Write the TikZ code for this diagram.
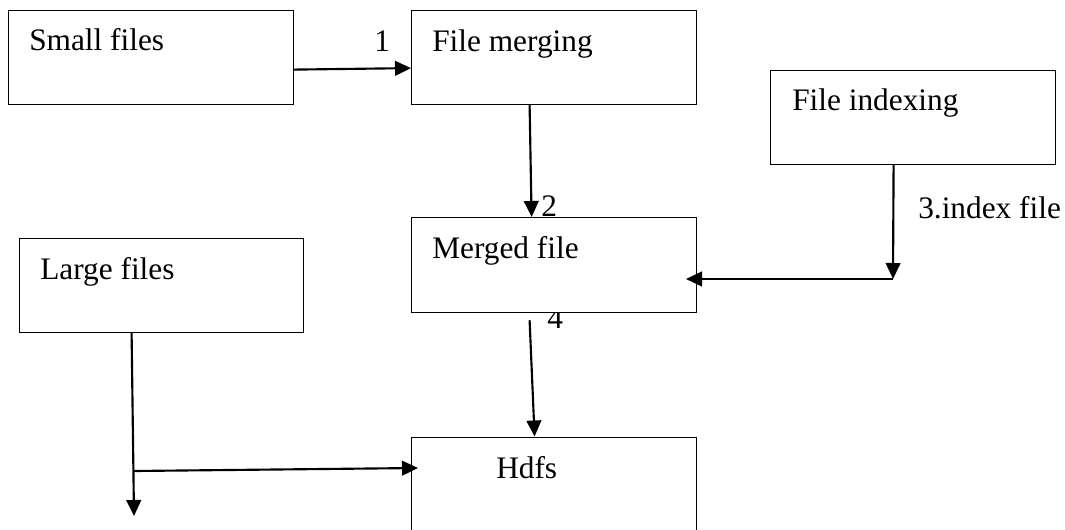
\documentclass[tikz,border=0pt]{standalone}
\usepackage{fontspec}
\setmainfont{Liberation Serif}
\usetikzlibrary{arrows.meta,calc}
\begin{document}
\begin{tikzpicture}[x=0.75pt,y=-0.75pt,
  box/.style={draw,fill=white,line width=0.9pt,inner sep=0pt,anchor=north west},
  lbl/.style={inner sep=0pt,anchor=base west,font=\rmfamily\fontsize{23.5}{26}\selectfont},
  arr/.style={line width=1.6pt,-{Triangle[length=12pt,width=11pt]}}]
\useasboundingbox (0,0) rectangle (1065,529);
% connector labels partly covered by boxes
\node[lbl] (l2) at (541,216) {2};
\node[lbl] (l4) at (547,328) {4};
% boxes
\node[box,minimum width=213.75pt,minimum height=70.5pt] (small) at (8,9.5) {};
\node[box,minimum width=213.75pt,minimum height=70.5pt] (merge) at (411,9.5) {};
\node[box,minimum width=213.75pt,minimum height=70.9pt] (index) at (770,69.5) {};
\node[box,minimum width=213.75pt,minimum height=70.9pt] (merged) at (411,217) {};
\node[box,minimum width=213pt,minimum height=70.5pt] (large) at (19,238) {};
\node[box,minimum width=213.75pt,minimum height=75pt] (hdfs) at (411,436.5) {};
% box texts
\node[lbl] (tsmall) at (29,50.7) {Small files};
\node[lbl] (tmerge) at (432,51) {File merging};
\node[lbl] (tindex) at (792,110.5) {File indexing};
\node[lbl] (tmerged) at (432,258) {Merged file};
\node[lbl] (tlarge) at (40,279) {Large files};
\node[lbl] (thdfs) at (496,478) {Hdfs};
% other labels
\node[lbl] (l1) at (374,51) {1};
\node[lbl] (l3) at (918,218) {3.index file};
% connectors
\draw[arr] ($(small.east)+(0,12.5)$) -- ($(merge.west)+(0,11)$);
\draw[arr] ($(merge.south)+(-24.5,0)$) -- ($(merged.north)+(-22.5,0)$);
\coordinate (c3) at (893,279);
\coordinate (e3) at (686,279);
\draw[arr] ($(index.south)+(-19.5,0)$) -- (c3);
\draw[arr] (c3) -- (e3);
\draw[arr] ($(merged.south)+(-24.5,7.5)$) -- ($(hdfs.north)+(-19.5,0)$);
\coordinate (j5) at (134,471);
\coordinate (e5) at (134,516);
\draw[arr] ($(large.south)+(-30,0)$) -- (e5);
\draw[arr] (j5) -- ($(hdfs.north west)+(7,31.5)$);
\end{tikzpicture}
\end{document}
